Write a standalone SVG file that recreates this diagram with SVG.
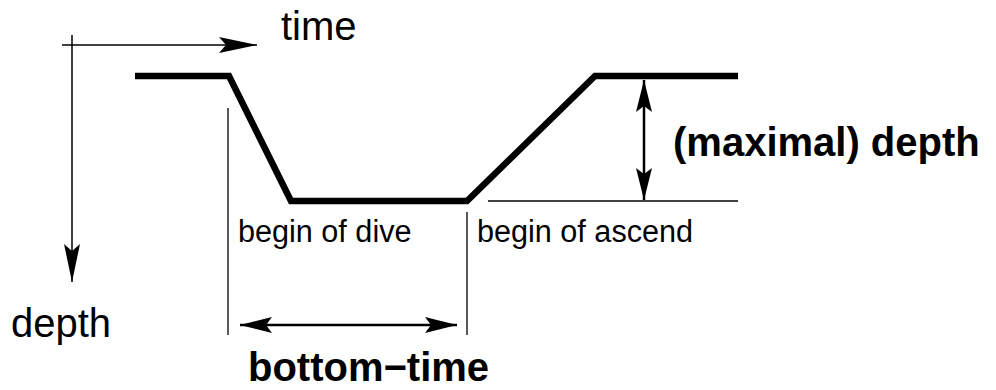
<svg xmlns="http://www.w3.org/2000/svg" width="996" height="390" viewBox="0 0 996 390">
  <style>
    .txt { font-family: "Liberation Sans", Arial, sans-serif; fill: #000; }
    .big { font-size: 40px; }
    .small { font-size: 30.6px; }
    .bold { font-weight: bold; }
    .thin { stroke: #000; stroke-width: 1.3; fill: none; }
    .axis { stroke: #000; stroke-width: 1.5; fill: none; }
    .dim { stroke: #000; stroke-width: 2.5; fill: none; }
    .profile { stroke: #000; stroke-width: 6.5; fill: none; stroke-linejoin: miter; }
  </style>
  <defs>
    <marker id="ax" markerUnits="userSpaceOnUse" viewBox="-40 -10 42 20" markerWidth="42" markerHeight="20" refX="0" refY="0" orient="auto-start-reverse">
      <path d="M0,0 L-38,-8 L-31,0 L-38,8 Z" fill="#000"/>
    </marker>
    <marker id="dimArrow" markerUnits="userSpaceOnUse" viewBox="-40 -10 42 20" markerWidth="42" markerHeight="20" refX="0" refY="0" orient="auto-start-reverse">
      <path d="M0,0 L-32,-8 L-26,0 L-32,8 Z" fill="#000"/>
    </marker>
  </defs>

  <g id="connectors">
    <line id="time-axis" class="axis" x1="62" y1="45" x2="257" y2="45" marker-end="url(#ax)"/>
    <line id="depth-axis" class="axis" x1="72" y1="35" x2="72" y2="282" marker-end="url(#ax)"/>
    <line id="depth-dim" class="dim" x1="644" y1="80" x2="644" y2="200" marker-start="url(#dimArrow)" marker-end="url(#dimArrow)"/>
    <line id="bottom-dim" class="dim" x1="240" y1="325" x2="457" y2="325" marker-start="url(#dimArrow)" marker-end="url(#dimArrow)"/>
  </g>

  <g id="profile">
    <polyline class="profile" points="135,76 229,76 291,201 467,201 595,76 738,76"/>
  </g>

  <g id="guides">
    <line class="thin" x1="488" y1="201" x2="738" y2="201"/>
    <line class="thin" x1="228" y1="108" x2="228" y2="335"/>
    <line class="thin" x1="467" y1="212" x2="467" y2="335"/>
  </g>

  <g id="label-time"><text class="txt big" x="281" y="40">time</text></g>
  <g id="label-depth"><text class="txt big" x="11" y="337">depth</text></g>
  <g id="label-maxdepth"><text class="txt big bold" x="673" y="156">(maximal) depth</text></g>
  <g id="label-begin-dive"><text class="txt small" x="238" y="242">begin of dive</text></g>
  <g id="label-begin-ascend"><text class="txt small" x="477" y="242">begin of ascend</text></g>
  <g id="label-bottom-time"><text class="txt big bold" x="248" y="381">bottom−time</text></g>
</svg>
